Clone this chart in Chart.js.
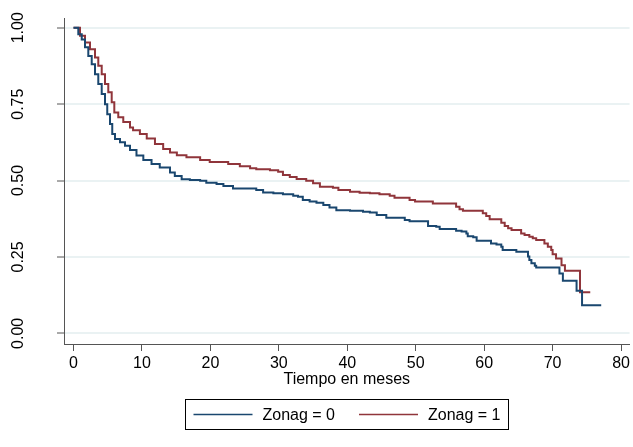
<!DOCTYPE html>
<html lang="es">
<head>
<meta charset="utf-8">
<title>Kaplan-Meier por Zonag</title>
<script src="https://cdn.jsdelivr.net/npm/chart.js@4"></script>
<style>
    body { margin: 0; background: #fff; }
    #contenedor { width: 633px; height: 447px; }
</style>
</head>
<body>
<div id="contenedor"><canvas id="chartKM" width="633" height="447"></canvas></div>
<script>
// Tiempos (meses) y supervivencia estimada para Zonag = 0.
const TIEMPO_ZONA0 = [0, 0.7, 1.2, 1.68, 2.16, 2.66, 3.14, 3.62, 4.12, 4.6, 4.93, 5.33, 5.66, 6.06, 6.79, 7.52, 8.25,
    9.2, 10.2, 11.4, 12.6, 14.1, 14.8, 15.8, 17.0, 18.5, 19.4, 20.9, 21.9, 23.3, 26.7, 27.7, 29.2, 30.6, 32.1, 32.8,
    33.5, 34.5, 35.5, 36.5, 37.4, 38.4, 40.4, 42.3, 43.3, 44.3, 45.7, 48.4, 49.1, 51.8, 53.0, 53.5, 55.9, 56.7, 57.4,
    57.6, 58.4, 58.9, 61.0, 61.8, 62.5, 62.7, 64.7, 66.4, 66.6, 66.9, 67.4, 67.6, 71.0, 71.5, 73.5, 74.3, 77.1];
const SUPERV_ZONA0 = [1, 0.979, 0.962, 0.936, 0.908, 0.881, 0.848, 0.816, 0.783, 0.75, 0.717, 0.685, 0.652, 0.636, 0.625, 0.614, 0.6,
    0.582, 0.567, 0.554, 0.543, 0.526, 0.515, 0.504, 0.502, 0.499, 0.493, 0.489, 0.482, 0.474, 0.469, 0.461, 0.458, 0.455, 0.45, 0.447,
    0.436, 0.431, 0.427, 0.42, 0.412, 0.403, 0.401, 0.398, 0.395, 0.387, 0.378, 0.371, 0.367, 0.351, 0.349, 0.341, 0.336, 0.333, 0.327,
    0.318, 0.314, 0.303, 0.294, 0.291, 0.283, 0.273, 0.267, 0.251, 0.24, 0.229, 0.221, 0.215, 0.196, 0.172, 0.139, 0.092, 0.092];

// Tiempos (meses) y supervivencia estimada para Zonag = 1.
const TIEMPO_ZONA1 = [0, 0.95, 1.68, 2.41, 3.14, 3.62, 4.12, 4.6, 5.08, 5.58, 5.96, 6.54, 7.27, 8.25, 8.7, 9.7, 10.7, 11.9,
    13.1, 14.1, 15.1, 16.5, 18.5, 19.9, 22.6, 24.3, 25.8, 26.7, 28.7, 29.9, 30.6, 31.6, 32.6, 34.0, 35.0, 36.0, 37.9, 38.7,
    40.4, 41.8, 43.3, 44.7, 46.2, 46.9, 49.1, 49.9, 52.5, 55.9, 56.4, 56.9, 59.8, 60.3, 60.8, 62.5, 63.0, 63.5, 64.0, 65.4,
    65.9, 66.6, 67.1, 67.6, 68.8, 69.3, 69.8, 70.0, 70.5, 71.3, 71.8, 74.0, 75.5];
const SUPERV_ZONA1 = [1, 0.974, 0.952, 0.93, 0.903, 0.876, 0.848, 0.816, 0.789, 0.756, 0.723, 0.707, 0.692, 0.674, 0.665, 0.652, 0.638, 0.62,
    0.603, 0.592, 0.583, 0.576, 0.567, 0.561, 0.554, 0.547, 0.54, 0.537, 0.534, 0.529, 0.518, 0.512, 0.505, 0.499, 0.491, 0.48, 0.476, 0.469,
    0.463, 0.46, 0.458, 0.455, 0.45, 0.444, 0.436, 0.431, 0.425, 0.414, 0.406, 0.401, 0.393, 0.384, 0.373, 0.362, 0.351, 0.344, 0.338, 0.327,
    0.322, 0.316, 0.311, 0.305, 0.294, 0.283, 0.273, 0.259, 0.245, 0.223, 0.205, 0.134, 0.134];

// Etiquetas de las series y de los ejes.
const SERIES = ['Zonag = 0', 'Zonag = 1'];
const X_TICKS = [0, 10, 20, 30, 40, 50, 60, 70, 80];
const Y_TICKS = [0, 0.25, 0.5, 0.75, 1];
const Y_LABELS = ['0.00', '0.25', '0.50', '0.75', '1.00'];
const X_TITULO = 'Tiempo en meses';

const FUENTE = '"Liberation Sans", Arial, Helvetica, sans-serif';
const COLOR_EJE = '#555555';

// Se arma el arreglo de puntos {x, y} a partir de los tiempos y la supervivencia.
const puntos = (tiempos, valores) => tiempos.map((t, i) => ({ x: t, y: valores[i] }));

// Plugin para escribir las etiquetas del eje Y en vertical (como en Stata).
const etiquetasY = {
    id: 'etiquetasY',
    afterDraw(chart) {
        const { ctx } = chart;
        const escalaY = chart.scales.y;
        ctx.save();
        ctx.font = `16px ${FUENTE}`;
        ctx.fillStyle = '#000';
        ctx.textAlign = 'center';
        ctx.textBaseline = 'alphabetic';
        Y_TICKS.forEach((valor, i) => {
            ctx.save();
            ctx.translate(23, escalaY.getPixelForValue(valor));
            ctx.rotate(-Math.PI / 2);
            ctx.fillText(Y_LABELS[i], 0, 0);
            ctx.restore();
        });
        ctx.restore();
    }
};

// Plugin para dibujar la leyenda con recuadro debajo del título del eje X.
const leyendaCaja = {
    id: 'leyendaCaja',
    afterDraw(chart) {
        const { ctx, chartArea } = chart;
        const largoLinea = 59, espacio = 10, separacion = 24, relleno = 8;
        ctx.save();
        ctx.font = `16px ${FUENTE}`;
        const anchos = chart.data.datasets.map(ds => ctx.measureText(ds.label).width);
        let total = relleno * 2 + separacion * (anchos.length - 1);
        anchos.forEach(a => { total += largoLinea + espacio + a; });
        const centro = (chartArea.left + chartArea.right) / 2;
        const izq = Math.round(centro - total / 2) + 0.5;
        const arriba = 399.5, alto = 30;
        ctx.strokeStyle = '#000';
        ctx.lineWidth = 1;
        ctx.strokeRect(izq, arriba, Math.round(total), alto);
        const medio = arriba + alto / 2;
        let x = izq + relleno;
        chart.data.datasets.forEach((ds, i) => {
            ctx.strokeStyle = ds.borderColor;
            ctx.lineWidth = 1.5;
            ctx.beginPath();
            ctx.moveTo(x, medio);
            ctx.lineTo(x + largoLinea, medio);
            ctx.stroke();
            x += largoLinea + espacio;
            ctx.fillStyle = '#000';
            ctx.textAlign = 'left';
            ctx.textBaseline = 'middle';
            ctx.fillText(ds.label, x, medio + 1);
            x += anchos[i] + separacion;
        });
        ctx.restore();
    }
};

// Función para renderizar la curva de supervivencia.
const renderKM = (context) => {
    new Chart(context, {
        type: 'line',
        data: {
            datasets: [{
                label: SERIES[0],
                data: puntos(TIEMPO_ZONA0, SUPERV_ZONA0),
                borderColor: '#1a476f',
                borderWidth: 2,
                pointRadius: 0,
                stepped: true,
                fill: false
            }, {
                label: SERIES[1],
                data: puntos(TIEMPO_ZONA1, SUPERV_ZONA1),
                borderColor: '#90353b',
                borderWidth: 2,
                pointRadius: 0,
                stepped: true,
                fill: false
            }]
        },
        options: {
            responsive: false,
            animation: false,
            devicePixelRatio: 1,
            layout: { padding: { top: 18, right: 3, bottom: 58, left: 0 } },
            plugins: {
                legend: { display: false },
                tooltip: { enabled: false }
            },
            scales: {
                x: {
                    type: 'linear',
                    min: -1.39,
                    max: 81.24,
                    afterBuildTicks: (escala) => { escala.ticks = X_TICKS.map(v => ({ value: v })); },
                    afterFit: (escala) => { escala.height = 45; },
                    grid: { drawOnChartArea: false, tickLength: 7, tickColor: COLOR_EJE, tickWidth: 1 },
                    border: { color: COLOR_EJE, width: 1 },
                    ticks: { color: '#000', padding: 3, maxRotation: 0, font: { family: FUENTE, size: 16 } },
                    title: {
                        display: true,
                        text: X_TITULO,
                        color: '#000',
                        padding: { top: 0, bottom: 0 },
                        font: { family: FUENTE, size: 16 }
                    }
                },
                y: {
                    type: 'linear',
                    min: -0.035,
                    max: 1.032,
                    afterBuildTicks: (escala) => { escala.ticks = Y_TICKS.map(v => ({ value: v })); },
                    afterFit: (escala) => { escala.width = 64; },
                    grid: { color: '#eaf2f3', lineWidth: 2, tickLength: 7, tickColor: COLOR_EJE, tickWidth: 1 },
                    border: { color: COLOR_EJE, width: 1 },
                    ticks: { display: false }
                }
            }
        },
        plugins: [etiquetasY, leyendaCaja]
    });
};

document.addEventListener('DOMContentLoaded', () => {
    renderKM(document.getElementById('chartKM').getContext('2d'));
});
</script>
</body>
</html>
